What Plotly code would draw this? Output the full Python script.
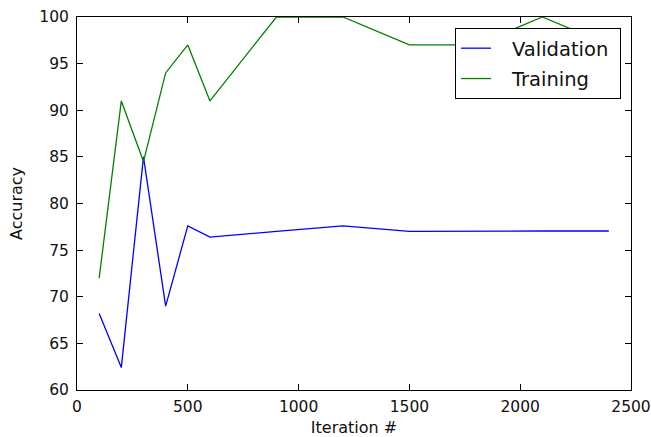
import plotly.graph_objects as go

iterations = [100, 200, 300, 400, 500, 600, 900, 1200, 1500, 1800, 2100, 2400]
validation = [68.2, 62.4, 85.0, 69.0, 77.6, 76.4, 77.0, 77.6, 77.0, 77.05, 77.05, 77.05]
training = [72.0, 91.0, 84.5, 94.0, 97.0, 91.0, 100.0, 100.0, 97.0, 97.0, 100.0, 97.0]
series_names = ["Validation", "Training"]

x_ticks = [0, 500, 1000, 1500, 2000, 2500]
y_ticks = [60, 65, 70, 75, 80, 85, 90, 95, 100]

font_family = "DejaVu Sans"
text_color = "#111"
pad = "\u2002\u00a0"

fig = go.Figure()
fig.add_trace(go.Scatter(x=iterations, y=validation, mode="lines",
                         name=pad + series_names[0] + "\u00a0", legendgroup="v",
                         line=dict(color="#0000ff", width=1.3)))
fig.add_trace(go.Scatter(x=iterations, y=training, mode="lines",
                         name=pad + series_names[1], legendgroup="t",
                         line=dict(color="#008000", width=1.3)))

axis_common = dict(
    showline=True, linecolor="black", linewidth=1, mirror="allticks",
    ticks="inside", ticklen=6, tickcolor="black", tickwidth=1,
    showgrid=False, zeroline=False, automargin=False,
    tickfont=dict(family=font_family, size=15.5, color=text_color),
)

fig.update_layout(
    width=651, height=437,
    margin=dict(l=77, r=20, t=17, b=47, autoexpand=False),
    paper_bgcolor="white", plot_bgcolor="white",
    font=dict(family=font_family, color=text_color),
    xaxis=dict(range=[0, 2500], tickvals=x_ticks, ticklabelstandoff=2,
               title=dict(text="Iteration #", font=dict(family=font_family, size=16, color=text_color), standoff=10),
               **axis_common),
    yaxis=dict(range=[60, 100], tickvals=y_ticks, ticklabelstandoff=4,
               title=dict(text="Accuracy", font=dict(family=font_family, size=16, color=text_color), standoff=12),
               **axis_common),
    legend=dict(x=0.982, y=0.9705, xanchor="right", yanchor="top",
                bordercolor="black", borderwidth=1, bgcolor="white",
                font=dict(family=font_family, size=19.5, color=text_color),
                traceorder="grouped", tracegroupgap=2, itemwidth=30),
    showlegend=True,
)

fig.write_html("out.html", config={"displayModeBar": False},
               post_script="document.body.style.margin='0px';document.body.style.overflow='hidden';")
